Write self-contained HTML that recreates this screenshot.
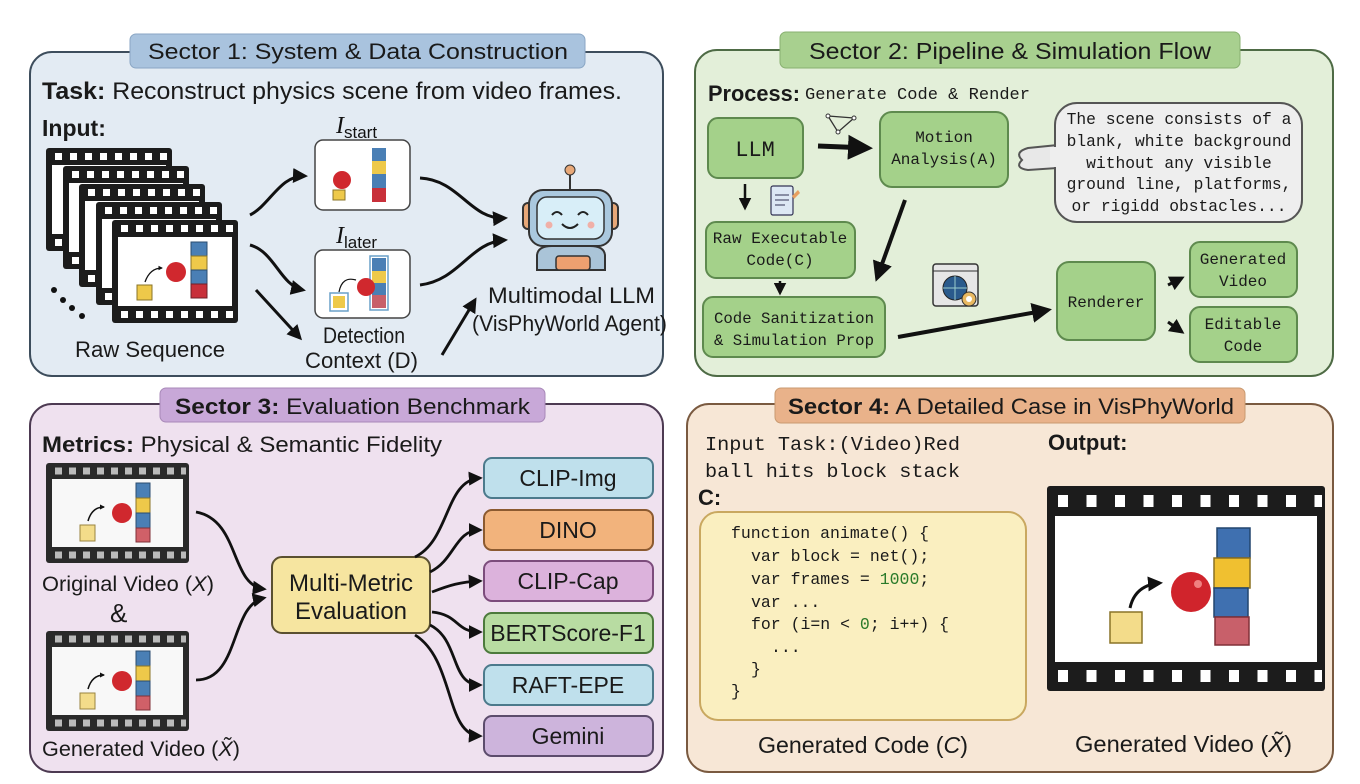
<!DOCTYPE html>
<html><head><meta charset="utf-8"><style>
html,body{margin:0;padding:0;background:#fff;width:1360px;height:784px;overflow:hidden}
svg{display:block}
.s{font-family:"Liberation Sans",sans-serif;fill:#1a1a1a}
.m{font-family:"Liberation Mono",monospace;fill:#1a1a1a}
.b{font-weight:bold}
</style></head><body>
<svg width="1360" height="784" viewBox="0 0 1360 784" xmlns="http://www.w3.org/2000/svg">
<defs>
<marker id="a" viewBox="0 0 10 10" refX="8" refY="5" markerWidth="5" markerHeight="5" orient="auto-start-reverse"><path d="M0,0 L10,5 L0,10 z" fill="#111"/></marker>
<marker id="a2" viewBox="0 0 10 10" refX="8" refY="5" markerWidth="3.5" markerHeight="3.5" orient="auto"><path d="M0,0 L10,5 L0,10 z" fill="#111"/></marker>
<g id="fr"><rect width="126" height="103" rx="3" fill="#1c1c1c"/><rect x="6" y="17" width="114" height="69" fill="#fff"/><line x1="9" x2="124" y1="8.5" y2="8.5" stroke="#fff" stroke-width="7" stroke-dasharray="7 8"/><line x1="9" x2="124" y1="94.5" y2="94.5" stroke="#fff" stroke-width="7" stroke-dasharray="7 8"/></g>
<g id="vf"><rect width="143" height="100" rx="3" fill="#2a2a2a"/><rect x="6" y="16" width="131" height="68" fill="#f8f8f8"/><line x1="9" x2="140" y1="8" y2="8" stroke="#bbb" stroke-width="7" stroke-dasharray="7 7"/><line x1="9" x2="140" y1="92" y2="92" stroke="#bbb" stroke-width="7" stroke-dasharray="7 7"/>
<rect x="34" y="62" width="15" height="16" fill="#f3dc8a" stroke="#9a8440"/><path d="M42,58 Q46,44 58,44" fill="none" stroke="#111" stroke-width="1.5" marker-end="url(#a2)"/><circle cx="76" cy="50" r="10" fill="#d0282e"/><rect x="90" y="20" width="14" height="15" fill="#4a7fb5" stroke="#2b4d70"/><rect x="90" y="35" width="14" height="15" fill="#eec94a" stroke="#8a7428"/><rect x="90" y="50" width="14" height="15" fill="#4a7fb5" stroke="#2b4d70"/><rect x="90" y="65" width="14" height="14" fill="#d06068" stroke="#803038"/></g>
</defs>

<!-- Sector 1 -->
<rect x="30" y="52" width="633" height="324" rx="22" fill="#e3ebf3" stroke="#3d4d5c" stroke-width="2"/>
<rect x="130" y="34" width="455" height="34" rx="6" fill="#a9c3de" stroke="#8aa6c4"/>
<text x="148" y="59" class="s" font-size="22" textLength="420" lengthAdjust="spacingAndGlyphs">Sector 1: System &amp; Data Construction</text>
<text x="42" y="99" class="s" font-size="24" textLength="580" lengthAdjust="spacingAndGlyphs"><tspan class="b">Task:</tspan> Reconstruct physics scene from video frames.</text>
<text x="42" y="136" class="s b" font-size="23">Input:</text>
<use href="#fr" x="46" y="148"/><use href="#fr" x="63" y="166"/><use href="#fr" x="79" y="184"/><use href="#fr" x="96" y="202"/><use href="#fr" x="112" y="220"/>
<rect x="137" y="285" width="15" height="15" fill="#eec94a" stroke="#8a7428"/>
<path d="M145,282 Q150,268 162,268" fill="none" stroke="#111" stroke-width="1.3" marker-end="url(#a2)"/>
<circle cx="176" cy="272" r="10" fill="#d0282e"/>
<rect x="191" y="242" width="16" height="14" fill="#4a7fb5" stroke="#2b4d70"/><rect x="191" y="256" width="16" height="14" fill="#eec94a" stroke="#8a7428"/><rect x="191" y="270" width="16" height="14" fill="#4a7fb5" stroke="#2b4d70"/><rect x="191" y="284" width="16" height="14" fill="#c8303a" stroke="#702028"/>
<circle cx="54" cy="290" r="3" fill="#111"/><circle cx="63" cy="300" r="3" fill="#111"/><circle cx="72" cy="308" r="3" fill="#111"/><circle cx="82" cy="316" r="3" fill="#111"/>
<text x="75" y="357" class="s" font-size="22" textLength="150" lengthAdjust="spacingAndGlyphs">Raw Sequence</text>
<text x="336" y="133" font-family="Liberation Serif,serif" font-style="italic" font-size="24" fill="#111">I<tspan font-style="normal" font-family="Liberation Sans,sans-serif" font-size="17" dy="5">start</tspan></text>
<text x="336" y="243" font-family="Liberation Serif,serif" font-style="italic" font-size="24" fill="#111">I<tspan font-style="normal" font-family="Liberation Sans,sans-serif" font-size="17" dy="5">later</tspan></text>
<rect x="315" y="140" width="95" height="70" rx="8" fill="#fff" stroke="#444" stroke-width="1.5"/>
<circle cx="342" cy="180" r="9" fill="#d0282e"/><rect x="333" y="190" width="12" height="10" fill="#eec94a" stroke="#8a7428"/>
<rect x="372" y="148" width="14" height="13" fill="#4a7fb5"/><rect x="372" y="161" width="14" height="13" fill="#eec94a"/><rect x="372" y="174" width="14" height="14" fill="#4a7fb5"/><rect x="372" y="188" width="14" height="14" fill="#c8303a"/>
<rect x="315" y="250" width="95" height="68" rx="8" fill="#fff" stroke="#444" stroke-width="1.5"/>
<rect x="370" y="256" width="18" height="54" fill="none" stroke="#6aa0c8" stroke-width="1.5"/>
<rect x="372" y="258" width="14" height="13" fill="#4a7fb5"/><rect x="372" y="271" width="14" height="12" fill="#eec94a"/><rect x="372" y="283" width="14" height="12" fill="#4a7fb5"/><rect x="372" y="295" width="14" height="13" fill="#c8606a"/>
<rect x="330" y="293" width="18" height="18" fill="none" stroke="#6aa0c8" stroke-width="1.5"/><rect x="333" y="296" width="12" height="12" fill="#eec94a"/>
<path d="M339,292 Q342,276 356,280" fill="none" stroke="#111" stroke-width="1.2"/><circle cx="366" cy="287" r="9" fill="#d0282e"/>
<text x="323" y="343" class="s" font-size="22" textLength="82" lengthAdjust="spacingAndGlyphs">Detection</text>
<text x="305" y="368" class="s" font-size="22" textLength="113" lengthAdjust="spacingAndGlyphs">Context (D)</text>
<g fill="none" stroke="#111" stroke-width="3" marker-end="url(#a)">
<path d="M250,215 C270,205 280,175 305,176"/>
<path d="M250,245 C275,252 280,285 303,290"/>
<path d="M256,290 L300,338"/>
<path d="M420,178 C460,180 470,220 505,218"/>
<path d="M420,285 C460,280 470,242 505,240"/>
<path d="M442,355 L475,300"/>
</g>
<!-- robot -->
<line x1="570" y1="172" x2="570" y2="190" stroke="#333" stroke-width="2"/><circle cx="570" cy="170" r="5" fill="#e8a878" stroke="#333"/>
<rect x="523" y="203" width="12" height="26" rx="5" fill="#e8a878" stroke="#333" stroke-width="2"/><rect x="606" y="203" width="12" height="26" rx="5" fill="#e8a878" stroke="#333" stroke-width="2"/>
<path d="M537,270 L537,255 Q538,246 552,246 L590,246 Q604,246 605,255 L605,270 Z" fill="#aac4d8" stroke="#333" stroke-width="2"/>
<rect x="556" y="256" width="34" height="14" rx="3" fill="#eda070" stroke="#333" stroke-width="1.5"/>
<rect x="529" y="190" width="83" height="56" rx="14" fill="#aac8de" stroke="#333" stroke-width="2"/>
<rect x="537" y="197" width="67" height="42" rx="10" fill="#d8eef8" stroke="#333" stroke-width="1.5"/>
<path d="M552,215 q5,-6 10,0 M578,215 q5,-6 10,0" fill="none" stroke="#222" stroke-width="2"/>
<path d="M562,224 q8,8 16,0" fill="none" stroke="#222" stroke-width="2"/>
<circle cx="549" cy="225" r="3.5" fill="#f0b0a8"/><circle cx="591" cy="225" r="3.5" fill="#f0b0a8"/>
<text x="488" y="303" class="s" font-size="22" textLength="167" lengthAdjust="spacingAndGlyphs">Multimodal LLM</text>
<text x="472" y="331" class="s" font-size="22" textLength="195" lengthAdjust="spacingAndGlyphs">(VisPhyWorld Agent)</text>

<!-- Sector 2 -->
<rect x="695" y="50" width="638" height="326" rx="22" fill="#e3efd9" stroke="#4e6b45" stroke-width="2"/>
<rect x="780" y="32" width="460" height="36" rx="6" fill="#a8d08f" stroke="#88b070"/>
<text x="809" y="59" class="s" font-size="23" textLength="402" lengthAdjust="spacingAndGlyphs">Sector 2: Pipeline &amp; Simulation Flow</text>
<text x="708" y="101" class="s b" font-size="22" textLength="92" lengthAdjust="spacingAndGlyphs">Process:</text>
<text x="805" y="99" class="m" font-size="17" textLength="225" lengthAdjust="spacingAndGlyphs">Generate Code &amp; Render</text>
<g fill="#a4d18a" stroke="#5e8a4e" stroke-width="2">
<rect x="708" y="118" width="95" height="60" rx="10"/>
<rect x="880" y="112" width="128" height="75" rx="12"/>
<rect x="706" y="222" width="149" height="56" rx="10"/>
<rect x="703" y="297" width="182" height="60" rx="10"/>
<rect x="1057" y="262" width="98" height="78" rx="12"/>
<rect x="1190" y="242" width="107" height="55" rx="10"/>
<rect x="1190" y="307" width="107" height="55" rx="10"/>
</g>
<text x="755" y="156" class="m" font-size="22" text-anchor="middle">LLM</text>
<text x="944" y="142" class="m" font-size="16" text-anchor="middle">Motion</text>
<text x="944" y="164" class="m" font-size="16" text-anchor="middle">Analysis(A)</text>
<text x="780" y="243" class="m" font-size="16" text-anchor="middle">Raw Executable</text>
<text x="780" y="265" class="m" font-size="16" text-anchor="middle">Code(C)</text>
<text x="794" y="323" class="m" font-size="15.7" text-anchor="middle">Code Sanitization</text>
<text x="794" y="345" class="m" font-size="15.7" text-anchor="middle">&amp; Simulation Prop</text>
<text x="1106" y="307" class="m" font-size="16" text-anchor="middle">Renderer</text>
<text x="1243" y="264" class="m" font-size="16" text-anchor="middle">Generated</text>
<text x="1243" y="286" class="m" font-size="16" text-anchor="middle">Video</text>
<text x="1243" y="329" class="m" font-size="16" text-anchor="middle">Editable</text>
<text x="1243" y="351" class="m" font-size="16" text-anchor="middle">Code</text>
<path d="M1022,160 Q1014,152 1028,148 L1058,145 L1058,168 L1028,170 Q1014,168 1022,160 Z" fill="#e8e8e8" stroke="#555" stroke-width="2"/>
<rect x="1055" y="103" width="247" height="119" rx="22" fill="#eeeeee" stroke="#555" stroke-width="2"/>
<rect x="1050" y="147" width="10" height="20" fill="#eeeeee"/>
<g class="m" font-size="16.3" text-anchor="middle">
<text x="1179" y="124" class="m">The scene consists of a</text>
<text x="1179" y="146" class="m">blank, white background</text>
<text x="1179" y="168" class="m">without any visible</text>
<text x="1179" y="189" class="m">ground line, platforms,</text>
<text x="1179" y="211" class="m">or rigidd obstacles...</text>
</g>
<g fill="none" stroke="#111" marker-end="url(#a)">
<path d="M818,146 L868,148" stroke-width="5"/>
<path d="M745,184 L745,208" stroke-width="2.5"/>
<path d="M780,281 L780,293" stroke-width="2.5"/>
<path d="M905,200 L877,278" stroke-width="4"/>
<path d="M898,337 L1048,310" stroke-width="4"/>
<path d="M1168,285 L1182,278" stroke-width="3"/>
<path d="M1168,322 L1182,332" stroke-width="3"/>
</g>
<!-- icons -->
<path d="M828,116 L838,132 L854,118 Z" fill="none" stroke="#333" stroke-width="1.3"/><circle cx="828" cy="116" r="2" fill="#fff" stroke="#333"/><circle cx="838" cy="132" r="2" fill="#fff" stroke="#333"/><circle cx="854" cy="118" r="2" fill="#fff" stroke="#333"/>
<rect x="771" y="186" width="22" height="29" rx="2" fill="#dde8f4" stroke="#335" stroke-width="1.2"/><path d="M775,195 h14 M775,200 h14 M775,205 h10" stroke="#335"/><path d="M792,196 L798,190 L800,193 L794,199 Z" fill="#e8a060"/>
<rect x="933" y="264" width="45" height="42" rx="3" fill="#e6e6e6" stroke="#333" stroke-width="1.5"/><line x1="933" y1="271" x2="978" y2="271" stroke="#333"/>
<circle cx="955" cy="288" r="12" fill="#2a5a8c" stroke="#222"/><path d="M943,288 h24 M955,276 v24" stroke="#9cc" stroke-width="1"/>
<circle cx="969" cy="299" r="7" fill="#e8b860" stroke="#333"/><circle cx="969" cy="299" r="3" fill="#fff"/>

<!-- Sector 3 -->
<rect x="30" y="404" width="633" height="368" rx="22" fill="#efe1ef" stroke="#4d3a52" stroke-width="2"/>
<rect x="160" y="388" width="385" height="34" rx="6" fill="#c8a8d8" stroke="#a888b8"/>
<text x="175" y="414" class="s" font-size="22" textLength="355" lengthAdjust="spacingAndGlyphs"><tspan class="b">Sector 3:</tspan> Evaluation Benchmark</text>
<text x="42" y="452" class="s" font-size="22" textLength="400" lengthAdjust="spacingAndGlyphs"><tspan class="b">Metrics:</tspan> Physical &amp; Semantic Fidelity</text>
<use href="#vf" x="46" y="463"/>
<use href="#vf" x="46" y="631"/>
<text x="42" y="591" class="s" font-size="21" textLength="172" lengthAdjust="spacingAndGlyphs">Original Video (<tspan font-style="italic">X</tspan>)</text>
<text x="110" y="622" class="s" font-size="26">&amp;</text>
<text x="42" y="756" class="s" font-size="21" textLength="198" lengthAdjust="spacingAndGlyphs">Generated Video (<tspan font-style="italic">X̃</tspan>)</text>
<rect x="272" y="557" width="158" height="76" rx="10" fill="#f6e5a0" stroke="#5a5030" stroke-width="2"/>
<text x="351" y="591" class="s" font-size="24" text-anchor="middle">Multi-Metric</text>
<text x="351" y="619" class="s" font-size="24" text-anchor="middle">Evaluation</text>
<g stroke-width="2">
<rect x="484" y="458" width="169" height="40" rx="8" fill="#bfe0ec" stroke="#4c7a8c"/>
<rect x="484" y="510" width="169" height="40" rx="8" fill="#f2b37c" stroke="#8c5a30"/>
<rect x="484" y="561" width="169" height="40" rx="8" fill="#dcb2dc" stroke="#7c4c7c"/>
<rect x="484" y="613" width="169" height="40" rx="8" fill="#b8dca2" stroke="#4c7a3c"/>
<rect x="484" y="665" width="169" height="40" rx="8" fill="#bfe0ec" stroke="#4c7a8c"/>
<rect x="484" y="716" width="169" height="40" rx="8" fill="#cdb4dc" stroke="#5c4c6c"/>
</g>
<g class="s" font-size="23" text-anchor="middle">
<text x="568" y="486" class="s">CLIP-Img</text>
<text x="568" y="538" class="s">DINO</text>
<text x="568" y="589" class="s">CLIP-Cap</text>
<text x="568" y="641" class="s">BERTScore-F1</text>
<text x="568" y="693" class="s">RAFT-EPE</text>
<text x="568" y="744" class="s">Gemini</text>
</g>
<g fill="none" stroke="#111" stroke-width="2.8" marker-end="url(#a)">
<path d="M196,512 C240,520 230,585 264,589"/>
<path d="M196,680 C240,680 230,605 264,598"/>
<path d="M415,557 C450,540 445,480 480,478"/>
<path d="M430,572 C455,560 455,530 480,530"/>
<path d="M432,592 C450,585 460,582 480,581"/>
<path d="M432,612 C460,615 455,632 480,632"/>
<path d="M430,625 C460,640 450,685 480,685"/>
<path d="M415,635 C455,660 445,735 480,736"/>
</g>

<!-- Sector 4 -->
<rect x="687" y="404" width="646" height="368" rx="22" fill="#f7e7d6" stroke="#7a5a40" stroke-width="2"/>
<rect x="775" y="388" width="470" height="35" rx="6" fill="#e9b28a" stroke="#c99a70"/>
<text x="788" y="414" class="s" font-size="22" textLength="446" lengthAdjust="spacingAndGlyphs"><tspan class="b">Sector 4:</tspan> A Detailed Case in VisPhyWorld</text>
<text x="705" y="450" class="m" font-size="19" textLength="255" lengthAdjust="spacingAndGlyphs">Input Task:(Video)Red</text>
<text x="705" y="477" class="m" font-size="19" textLength="255" lengthAdjust="spacingAndGlyphs">ball hits block stack</text>
<text x="698" y="505" class="s b" font-size="22">C:</text>
<text x="1048" y="450" class="s b" font-size="22">Output:</text>
<rect x="700" y="512" width="326" height="208" rx="18" fill="#faefc0" stroke="#c9a860" stroke-width="2"/>
<g font-size="16.5">
<text x="731" y="538" class="m">function animate() {</text>
<text x="751" y="561" class="m">var block = net();</text>
<text x="751" y="584" class="m">var frames = <tspan fill="#2a7a2a">1000</tspan>;</text>
<text x="751" y="607" class="m">var ...</text>
<text x="751" y="629" class="m">for (i=n &lt; <tspan fill="#2a7a2a">0</tspan>; i++) {</text>
<text x="771" y="652" class="m">...</text>
<text x="751" y="674" class="m">}</text>
<text x="731" y="696" class="m">}</text>
</g>
<text x="758" y="753" class="s" font-size="23" textLength="210" lengthAdjust="spacingAndGlyphs">Generated Code (<tspan font-style="italic">C</tspan>)</text>
<text x="1075" y="752" class="s" font-size="23" textLength="217" lengthAdjust="spacingAndGlyphs">Generated Video (<tspan font-style="italic">X̃</tspan>)</text>
<rect x="1047" y="486" width="278" height="205" rx="3" fill="#1c1c1c"/>
<rect x="1055" y="516" width="262" height="146" fill="#fff"/>
<line x1="1058" x2="1322" y1="501" y2="501" stroke="#fff" stroke-width="12" stroke-dasharray="10 18.5"/>
<line x1="1058" x2="1322" y1="676" y2="676" stroke="#fff" stroke-width="12" stroke-dasharray="10 18.5"/>
<rect x="1110" y="612" width="32" height="31" fill="#f3dc8a" stroke="#8a7428" stroke-width="1.5"/>
<path d="M1130,608 Q1135,585 1160,583" fill="none" stroke="#111" stroke-width="3" marker-end="url(#a)"/>
<circle cx="1191" cy="592" r="20" fill="#d0242c"/><circle cx="1198" cy="584" r="4" fill="#f08080"/>
<rect x="1217" y="528" width="33" height="30" fill="#3f70b0" stroke="#22456e" stroke-width="1.5"/>
<rect x="1214" y="558" width="36" height="30" fill="#f0c030" stroke="#8a7020" stroke-width="1.5"/>
<rect x="1214" y="588" width="34" height="29" fill="#3f70b0" stroke="#22456e" stroke-width="1.5"/>
<rect x="1215" y="617" width="34" height="28" fill="#c8606a" stroke="#803038" stroke-width="1.5"/>
</svg>
</body></html>
